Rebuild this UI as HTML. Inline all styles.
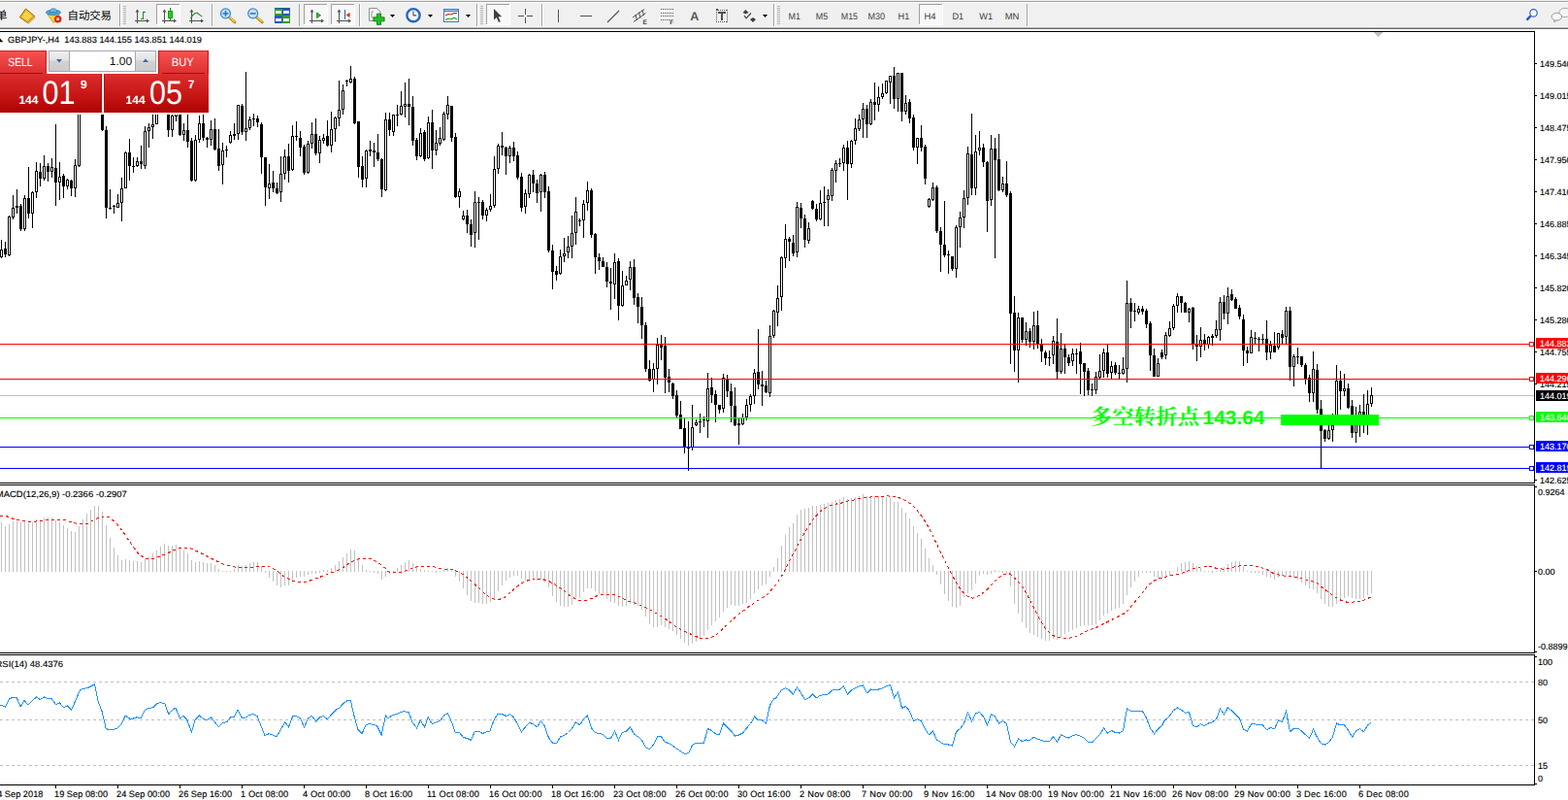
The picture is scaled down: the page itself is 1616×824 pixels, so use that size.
<!DOCTYPE html>
<html><head><meta charset="utf-8"><title>GBPJPY H4</title>
<style>
html,body{margin:0;padding:0;background:#fff;}
body{width:1616px;height:824px;overflow:hidden;position:relative;font-family:"Liberation Sans",sans-serif;}
svg{position:absolute;left:0;top:0;display:block;}
svg text{font-family:"Liberation Sans",sans-serif;}
#axis text,#time text,#labels text{stroke:#000;stroke-width:.14px;}
#axis text[fill="#fff"]{stroke:#fff;}
</style></head>
<body>
<svg width="1616" height="824" viewBox="0 0 1616 824" shape-rendering="crispEdges" text-rendering="geometricPrecision">
<rect x="0" y="0" width="1616" height="824" fill="#ffffff"/>
<g id="main">
<rect x="0" y="407" width="1581" height="1" fill="#c0c0c0" />
<path fill="#000" d="M1 247h1v19h-1zM0 257h3v8h-3zM5 249h1v16h-1zM4 256h3v6h-3zM9 222h1v42h-1zM8 223h3v40h-3zM13 201h1v25h-1zM12 214h3v10h-3zM17 195h1v25h-1zM16 212h3v2h-3zM21 210h1v28h-1zM20 212h3v24h-3zM25 201h1v37h-1zM24 204h3v32h-3zM29 172h1v53h-1zM28 204h3v16h-3zM33 197h1v38h-1zM32 198h3v22h-3zM37 167h1v37h-1zM36 176h3v22h-3zM41 168h1v24h-1zM40 177h3v7h-3zM45 160h1v26h-1zM44 171h3v13h-3zM49 168h1v19h-1zM48 171h3v6h-3zM53 163h1v20h-1zM52 172h3v5h-3zM57 128h1v84h-1zM56 173h3v15h-3zM61 167h1v39h-1zM60 182h3v6h-3zM65 179h1v25h-1zM64 181h3v11h-3zM69 184h1v11h-1zM68 185h3v7h-3zM73 185h1v17h-1zM72 186h3v8h-3zM77 164h1v39h-1zM76 170h3v24h-3zM81 81h1v91h-1zM80 83h3v88h-3zM85 71h1v20h-1zM84 75h3v8h-3zM89 71h1v20h-1zM88 75h3v8h-3zM93 71h1v20h-1zM92 75h3v8h-3zM97 71h1v20h-1zM96 75h3v8h-3zM101 71h1v20h-1zM100 75h3v8h-3zM105 75h1v60h-1zM104 77h3v57h-3zM109 130h1v95h-1zM108 134h3v80h-3zM113 195h1v21h-1zM112 214h3v1h-3zM117 211h1v9h-1zM116 212h3v1h-3zM121 200h1v14h-1zM120 209h3v5h-3zM125 183h1v45h-1zM124 194h3v15h-3zM129 156h1v38h-1zM128 157h3v37h-3zM133 143h1v43h-1zM132 157h3v14h-3zM137 162h1v16h-1zM136 171h3v1h-3zM141 162h1v10h-1zM140 166h3v5h-3zM145 150h1v24h-1zM144 166h3v3h-3zM149 130h1v44h-1zM148 135h3v36h-3zM153 127h1v25h-1zM152 131h3v4h-3zM157 112h1v31h-1zM156 128h3v3h-3zM161 100h1v28h-1zM160 102h3v26h-3zM165 71h1v20h-1zM164 75h3v8h-3zM169 71h1v20h-1zM168 75h3v8h-3zM173 91h1v50h-1zM172 92h3v42h-3zM177 116h1v25h-1zM176 119h3v15h-3zM181 100h1v25h-1zM180 102h3v18h-3zM185 100h1v40h-1zM184 102h3v37h-3zM189 127h1v18h-1zM188 134h3v5h-3zM193 118h1v34h-1zM192 134h3v12h-3zM197 142h1v45h-1zM196 145h3v41h-3zM201 139h1v48h-1zM200 144h3v42h-3zM205 119h1v28h-1zM204 127h3v17h-3zM209 118h1v27h-1zM208 127h3v15h-3zM213 141h1v11h-1zM212 142h3v2h-3zM217 124h1v26h-1zM216 133h3v11h-3zM221 122h1v33h-1zM220 133h3v21h-3zM225 133h1v43h-1zM224 153h3v18h-3zM229 147h1v43h-1zM228 155h3v15h-3zM233 150h1v12h-1zM232 154h3v1h-3zM237 135h1v13h-1zM236 139h3v8h-3zM241 127h1v17h-1zM240 138h3v2h-3zM245 108h1v36h-1zM244 108h3v30h-3zM249 107h1v32h-1zM248 109h3v27h-3zM253 74h1v71h-1zM252 132h3v4h-3zM257 120h1v14h-1zM256 123h3v9h-3zM261 117h1v13h-1zM260 122h3v1h-3zM265 119h1v12h-1zM264 122h3v4h-3zM269 126h1v53h-1zM268 128h3v34h-3zM273 162h1v50h-1zM272 162h3v31h-3zM277 169h1v36h-1zM276 189h3v5h-3zM281 176h1v22h-1zM280 188h3v6h-3zM285 188h1v12h-1zM284 194h3v5h-3zM289 161h1v47h-1zM288 179h3v19h-3zM293 154h1v31h-1zM292 161h3v18h-3zM297 148h1v40h-1zM296 161h3v15h-3zM301 129h1v47h-1zM300 140h3v35h-3zM305 125h1v20h-1zM304 140h3v1h-3zM309 135h1v26h-1zM308 142h3v10h-3zM313 149h1v31h-1zM312 151h3v27h-3zM317 145h1v34h-1zM316 148h3v30h-3zM321 126h1v27h-1zM320 138h3v10h-3zM325 122h1v38h-1zM324 138h3v20h-3zM329 140h1v28h-1zM328 144h3v14h-3zM333 138h1v10h-1zM332 142h3v3h-3zM337 124h1v27h-1zM336 140h3v10h-3zM341 115h1v42h-1zM340 133h3v17h-3zM345 120h1v26h-1zM344 121h3v12h-3zM349 83h1v47h-1zM348 113h3v9h-3zM353 87h1v31h-1zM352 93h3v20h-3zM357 82h1v7h-1zM356 83h3v1h-3zM361 68h1v18h-1zM360 81h3v4h-3zM365 79h1v49h-1zM364 81h3v46h-3zM369 125h1v58h-1zM368 125h3v47h-3zM373 161h1v32h-1zM372 171h3v14h-3zM377 154h1v39h-1zM376 155h3v29h-3zM381 145h1v16h-1zM380 154h3v2h-3zM385 147h1v25h-1zM384 155h3v2h-3zM389 138h1v28h-1zM388 157h3v7h-3zM393 163h1v40h-1zM392 164h3v31h-3zM397 116h1v81h-1zM396 123h3v73h-3zM401 116h1v24h-1zM400 123h3v11h-3zM405 118h1v22h-1zM404 118h3v18h-3zM409 108h1v22h-1zM408 118h3v1h-3zM413 94h1v25h-1zM412 109h3v9h-3zM417 85h1v36h-1zM416 107h3v3h-3zM421 81h1v48h-1zM420 107h3v3h-3zM425 99h1v51h-1zM424 110h3v35h-3zM429 142h1v23h-1zM428 144h3v17h-3zM433 132h1v30h-1zM432 137h3v24h-3zM437 134h1v32h-1zM436 136h3v28h-3zM441 120h1v44h-1zM440 126h3v37h-3zM445 113h1v61h-1zM444 126h3v29h-3zM449 134h1v26h-1zM448 147h3v8h-3zM453 131h1v19h-1zM452 142h3v6h-3zM457 115h1v30h-1zM456 117h3v27h-3zM461 99h1v24h-1zM460 108h3v10h-3zM465 109h1v37h-1zM464 109h3v33h-3zM469 137h1v67h-1zM468 141h3v62h-3zM473 194h1v20h-1zM472 197h3v6h-3zM477 217h1v10h-1zM476 222h3v4h-3zM481 216h1v24h-1zM480 222h3v9h-3zM485 226h1v28h-1zM484 231h3v11h-3zM489 197h1v58h-1zM488 208h3v32h-3zM493 203h1v44h-1zM492 208h3v1h-3zM497 206h1v20h-1zM496 208h3v14h-3zM501 214h1v14h-1zM500 216h3v6h-3zM505 200h1v18h-1zM504 212h3v4h-3zM509 161h1v53h-1zM508 174h3v38h-3zM513 148h1v31h-1zM512 150h3v24h-3zM517 136h1v24h-1zM516 150h3v2h-3zM521 151h1v29h-1zM520 152h3v9h-3zM525 150h1v18h-1zM524 152h3v9h-3zM529 146h1v20h-1zM528 152h3v9h-3zM533 156h1v29h-1zM532 160h3v23h-3zM537 178h1v40h-1zM536 182h3v32h-3zM541 195h1v25h-1zM540 199h3v14h-3zM545 179h1v25h-1zM544 180h3v20h-3zM549 175h1v23h-1zM548 180h3v9h-3zM553 185h1v24h-1zM552 189h3v10h-3zM557 179h1v39h-1zM556 180h3v18h-3zM561 177h1v27h-1zM560 180h3v18h-3zM565 192h1v68h-1zM564 197h3v61h-3zM569 252h1v46h-1zM568 258h3v22h-3zM573 274h1v15h-1zM572 279h3v4h-3zM577 257h1v26h-1zM576 264h3v18h-3zM581 245h1v25h-1zM580 261h3v3h-3zM585 243h1v23h-1zM584 254h3v6h-3zM589 222h1v44h-1zM588 240h3v14h-3zM593 203h1v49h-1zM592 218h3v22h-3zM597 225h1v8h-1zM596 227h3v1h-3zM601 206h1v39h-1zM600 210h3v17h-3zM605 187h1v30h-1zM604 196h3v13h-3zM609 194h1v51h-1zM608 196h3v46h-3zM613 240h1v42h-1zM612 241h3v24h-3zM617 261h1v17h-1zM616 265h3v4h-3zM621 265h1v10h-1zM620 269h3v6h-3zM625 270h1v26h-1zM624 275h3v15h-3zM629 276h1v43h-1zM628 290h3v2h-3zM633 261h1v47h-1zM632 270h3v23h-3zM637 266h1v64h-1zM636 269h3v46h-3zM641 279h1v37h-1zM640 294h3v21h-3zM645 284h1v10h-1zM644 289h3v5h-3zM649 269h1v30h-1zM648 275h3v13h-3zM653 267h1v47h-1zM652 275h3v32h-3zM657 302h1v31h-1zM656 306h3v10h-3zM661 306h1v43h-1zM660 316h3v19h-3zM665 332h1v51h-1zM664 335h3v45h-3zM669 371h1v22h-1zM668 380h3v12h-3zM673 374h1v30h-1zM672 380h3v11h-3zM677 348h1v48h-1zM676 355h3v25h-3zM681 345h1v26h-1zM680 355h3v3h-3zM685 347h1v58h-1zM684 356h3v33h-3zM689 380h1v24h-1zM688 388h3v6h-3zM693 394h1v17h-1zM692 395h3v13h-3zM697 402h1v28h-1zM696 407h3v21h-3zM701 413h1v29h-1zM700 427h3v15h-3zM705 431h1v36h-1zM704 441h3v20h-3zM709 434h1v51h-1zM708 461h3v1h-3zM713 417h1v47h-1zM712 440h3v21h-3zM717 432h1v7h-1zM716 435h3v3h-3zM721 426h1v20h-1zM720 434h3v1h-3zM725 429h1v11h-1zM724 432h3v1h-3zM729 384h1v67h-1zM728 400h3v34h-3zM733 389h1v26h-1zM732 399h3v8h-3zM737 402h1v33h-1zM736 406h3v11h-3zM741 417h1v9h-1zM740 417h3v5h-3zM745 385h1v40h-1zM744 389h3v32h-3zM749 386h1v23h-1zM748 390h3v13h-3zM753 395h1v40h-1zM752 403h3v15h-3zM757 399h1v40h-1zM756 418h3v20h-3zM761 431h1v27h-1zM760 436h3v2h-3zM765 426h1v12h-1zM764 430h3v7h-3zM769 411h1v22h-1zM768 417h3v13h-3zM773 406h1v18h-1zM772 408h3v9h-3zM777 380h1v36h-1zM776 384h3v24h-3zM781 339h1v62h-1zM780 383h3v13h-3zM785 382h1v36h-1zM784 396h3v2h-3zM789 392h1v13h-1zM788 397h3v7h-3zM793 335h1v74h-1zM792 346h3v59h-3zM797 319h1v29h-1zM796 320h3v26h-3zM801 294h1v42h-1zM800 307h3v15h-3zM805 264h1v56h-1zM804 265h3v41h-3zM809 231h1v45h-1zM808 246h3v20h-3zM813 244h1v25h-1zM812 246h3v3h-3zM817 242h1v22h-1zM816 250h3v11h-3zM821 208h1v57h-1zM820 213h3v47h-3zM825 209h1v26h-1zM824 214h3v11h-3zM829 221h1v34h-1zM828 225h3v22h-3zM833 229h1v22h-1zM832 235h3v13h-3zM837 206h1v10h-1zM836 207h3v8h-3zM841 210h1v18h-1zM840 215h3v11h-3zM845 196h1v31h-1zM844 209h3v17h-3zM849 192h1v41h-1zM848 208h3v1h-3zM853 195h1v38h-1zM852 201h3v5h-3zM857 173h1v34h-1zM856 175h3v27h-3zM861 165h1v23h-1zM860 168h3v8h-3zM865 163h1v9h-1zM864 168h3v1h-3zM869 149h1v27h-1zM868 152h3v16h-3zM873 145h1v61h-1zM872 152h3v17h-3zM877 144h1v29h-1zM876 145h3v24h-3zM881 122h1v27h-1zM880 132h3v13h-3zM885 118h1v17h-1zM884 123h3v10h-3zM889 106h1v36h-1zM888 112h3v11h-3zM893 108h1v34h-1zM892 112h3v16h-3zM897 102h1v27h-1zM896 105h3v23h-3zM901 85h1v39h-1zM900 105h3v3h-3zM905 89h1v26h-1zM904 100h3v8h-3zM909 86h1v16h-1zM908 96h3v4h-3zM913 83h1v14h-1zM912 83h3v13h-3zM917 78h1v29h-1zM916 78h3v7h-3zM921 69h1v43h-1zM920 78h3v24h-3zM925 75h1v40h-1zM924 75h3v27h-3zM929 75h1v50h-1zM928 75h3v40h-3zM933 98h1v20h-1zM932 106h3v9h-3zM937 102h1v25h-1zM936 105h3v17h-3zM941 118h1v37h-1zM940 121h3v31h-3zM945 142h1v27h-1zM944 142h3v10h-3zM949 129h1v27h-1zM948 142h3v10h-3zM953 149h1v41h-1zM952 151h3v33h-3zM957 204h1v10h-1zM956 205h3v8h-3zM961 188h1v19h-1zM960 193h3v13h-3zM965 191h1v49h-1zM964 193h3v45h-3zM969 234h1v46h-1zM968 238h3v14h-3zM973 207h1v58h-1zM972 252h3v11h-3zM977 258h1v24h-1zM976 262h3v1h-3zM981 264h1v15h-1zM980 264h3v13h-3zM985 232h1v54h-1zM984 234h3v43h-3zM989 218h1v37h-1zM988 224h3v10h-3zM993 196h1v39h-1zM992 204h3v20h-3zM997 151h1v60h-1zM996 158h3v46h-3zM1001 117h1v84h-1zM1000 159h3v35h-3zM1005 139h1v62h-1zM1004 156h3v38h-3zM1009 135h1v25h-1zM1008 152h3v3h-3zM1013 148h1v24h-1zM1012 152h3v15h-3zM1017 166h1v73h-1zM1016 167h3v40h-3zM1021 139h1v73h-1zM1020 153h3v53h-3zM1025 142h1v124h-1zM1024 153h3v12h-3zM1029 138h1v59h-1zM1028 164h3v32h-3zM1033 182h1v16h-1zM1032 189h3v7h-3zM1037 166h1v37h-1zM1036 189h3v12h-3zM1041 197h1v178h-1zM1040 199h3v124h-3zM1045 305h1v78h-1zM1044 322h3v39h-3zM1049 322h1v72h-1zM1048 327h3v34h-3zM1053 327h1v26h-1zM1052 327h3v23h-3zM1057 332h1v24h-1zM1056 341h3v9h-3zM1061 338h1v20h-1zM1060 341h3v11h-3zM1065 321h1v39h-1zM1064 335h3v17h-3zM1069 320h1v39h-1zM1068 335h3v20h-3zM1073 349h1v24h-1zM1072 355h3v7h-3zM1077 361h1v15h-1zM1076 363h3v6h-3zM1081 361h1v16h-1zM1080 368h3v1h-3zM1085 346h1v29h-1zM1084 351h3v15h-3zM1089 328h1v63h-1zM1088 352h3v31h-3zM1093 343h1v42h-1zM1092 359h3v24h-3zM1097 355h1v30h-1zM1096 359h3v9h-3zM1101 365h1v12h-1zM1100 368h3v6h-3zM1105 359h1v18h-1zM1104 364h3v8h-3zM1109 359h1v26h-1zM1108 364h3v1h-3zM1113 353h1v53h-1zM1112 362h3v13h-3zM1117 374h1v34h-1zM1116 374h3v9h-3zM1121 379h1v28h-1zM1120 382h3v20h-3zM1125 395h1v13h-1zM1124 401h3v1h-3zM1129 383h1v23h-1zM1128 388h3v14h-3zM1133 365h1v25h-1zM1132 382h3v7h-3zM1137 359h1v30h-1zM1136 363h3v19h-3zM1141 355h1v34h-1zM1140 363h3v22h-3zM1145 372h1v18h-1zM1144 377h3v7h-3zM1149 373h1v13h-1zM1148 376h3v8h-3zM1153 376h1v14h-1zM1152 384h3v1h-3zM1157 368h1v18h-1zM1156 380h3v5h-3zM1161 289h1v105h-1zM1160 312h3v68h-3zM1165 307h1v31h-1zM1164 312h3v9h-3zM1169 312h1v19h-1zM1168 320h3v1h-3zM1173 315h1v9h-1zM1172 318h3v4h-3zM1177 315h1v9h-1zM1176 318h3v3h-3zM1181 318h1v20h-1zM1180 320h3v14h-3zM1185 331h1v51h-1zM1184 333h3v33h-3zM1189 359h1v29h-1zM1188 366h3v22h-3zM1193 369h1v19h-1zM1192 374h3v14h-3zM1197 360h1v10h-1zM1196 363h3v5h-3zM1201 342h1v28h-1zM1200 345h3v21h-3zM1205 331h1v16h-1zM1204 338h3v8h-3zM1209 313h1v27h-1zM1208 315h3v23h-3zM1213 302h1v20h-1zM1212 305h3v10h-3zM1217 305h1v17h-1zM1216 305h3v7h-3zM1221 311h1v11h-1zM1220 312h3v10h-3zM1225 317h1v15h-1zM1224 318h3v4h-3zM1229 316h1v44h-1zM1228 317h3v37h-3zM1233 345h1v27h-1zM1232 354h3v3h-3zM1237 337h1v31h-1zM1236 350h3v7h-3zM1241 344h1v17h-1zM1240 350h3v5h-3zM1245 346h1v13h-1zM1244 347h3v8h-3zM1249 344h1v12h-1zM1248 346h3v2h-3zM1253 330h1v18h-1zM1252 339h3v7h-3zM1257 306h1v45h-1zM1256 311h3v29h-3zM1261 304h1v25h-1zM1260 311h3v12h-3zM1265 296h1v38h-1zM1264 305h3v18h-3zM1269 298h1v12h-1zM1268 303h3v6h-3zM1273 306h1v12h-1zM1272 308h3v10h-3zM1277 314h1v15h-1zM1276 317h3v9h-3zM1281 324h1v53h-1zM1280 329h3v32h-3zM1285 357h1v17h-1zM1284 361h3v3h-3zM1289 340h1v24h-1zM1288 347h3v17h-3zM1293 342h1v12h-1zM1292 348h3v1h-3zM1297 347h1v15h-1zM1296 349h3v1h-3zM1301 344h1v11h-1zM1300 349h3v1h-3zM1305 330h1v41h-1zM1304 349h3v14h-3zM1309 351h1v19h-1zM1308 355h3v8h-3zM1313 342h1v21h-1zM1312 356h3v7h-3zM1317 343h1v17h-1zM1316 343h3v15h-3zM1321 340h1v14h-1zM1320 344h3v4h-3zM1325 316h1v38h-1zM1324 320h3v27h-3zM1329 316h1v76h-1zM1328 320h3v58h-3zM1333 365h1v33h-1zM1332 367h3v11h-3zM1337 358h1v17h-1zM1336 367h3v1h-3zM1341 367h1v11h-1zM1340 367h3v9h-3zM1345 374h1v22h-1zM1344 376h3v14h-3zM1349 386h1v28h-1zM1348 389h3v16h-3zM1353 362h1v52h-1zM1352 380h3v25h-3zM1357 375h1v51h-1zM1356 381h3v41h-3zM1361 412h1v70h-1zM1360 421h3v23h-3zM1365 442h1v13h-1zM1364 443h3v9h-3zM1369 438h1v15h-1zM1368 443h3v9h-3zM1373 426h1v29h-1zM1372 438h3v5h-3zM1377 376h1v62h-1zM1376 392h3v46h-3zM1381 382h1v40h-1zM1380 392h3v11h-3zM1385 385h1v23h-1zM1384 400h3v3h-3zM1389 395h1v26h-1zM1388 400h3v20h-3zM1393 412h1v39h-1zM1392 418h3v28h-3zM1397 419h1v37h-1zM1396 436h3v10h-3zM1401 417h1v33h-1zM1400 424h3v12h-3zM1405 406h1v40h-1zM1404 424h3v10h-3zM1409 402h1v46h-1zM1408 416h3v18h-3zM1413 399h1v20h-1zM1412 407h3v9h-3z"/>
<path fill="#fff" d="M1 258h1v6h-1zM9 224h1v38h-1zM13 215h1v8h-1zM25 205h1v30h-1zM33 199h1v20h-1zM37 177h1v20h-1zM45 172h1v11h-1zM53 173h1v3h-1zM61 183h1v4h-1zM69 186h1v5h-1zM77 171h1v22h-1zM81 84h1v86h-1zM85 76h1v6h-1zM93 76h1v6h-1zM101 76h1v6h-1zM121 210h1v3h-1zM125 195h1v13h-1zM129 158h1v35h-1zM141 167h1v3h-1zM149 136h1v34h-1zM153 132h1v2h-1zM157 129h1v1h-1zM161 103h1v24h-1zM165 76h1v6h-1zM177 120h1v13h-1zM181 103h1v16h-1zM189 135h1v3h-1zM201 145h1v40h-1zM205 128h1v15h-1zM217 134h1v9h-1zM229 156h1v13h-1zM237 140h1v6h-1zM245 109h1v28h-1zM253 133h1v2h-1zM257 124h1v7h-1zM277 190h1v3h-1zM289 180h1v17h-1zM293 162h1v16h-1zM301 141h1v33h-1zM317 149h1v28h-1zM321 139h1v8h-1zM329 145h1v12h-1zM333 143h1v1h-1zM341 134h1v15h-1zM345 122h1v10h-1zM349 114h1v7h-1zM353 94h1v18h-1zM361 82h1v2h-1zM377 156h1v27h-1zM397 124h1v71h-1zM405 119h1v16h-1zM413 110h1v7h-1zM417 108h1v1h-1zM433 138h1v22h-1zM441 127h1v35h-1zM449 148h1v6h-1zM453 143h1v4h-1zM457 118h1v25h-1zM461 109h1v8h-1zM473 198h1v4h-1zM477 223h1v2h-1zM489 209h1v30h-1zM501 217h1v4h-1zM505 213h1v2h-1zM509 175h1v36h-1zM513 151h1v22h-1zM525 153h1v7h-1zM541 200h1v12h-1zM545 181h1v18h-1zM557 181h1v16h-1zM577 265h1v16h-1zM581 262h1v1h-1zM585 255h1v4h-1zM589 241h1v12h-1zM593 219h1v20h-1zM601 211h1v15h-1zM605 197h1v11h-1zM633 271h1v21h-1zM641 295h1v19h-1zM645 290h1v3h-1zM649 276h1v11h-1zM673 381h1v9h-1zM677 356h1v23h-1zM713 441h1v19h-1zM717 436h1v1h-1zM729 401h1v32h-1zM745 390h1v30h-1zM765 431h1v5h-1zM769 418h1v11h-1zM773 409h1v7h-1zM777 385h1v22h-1zM793 347h1v57h-1zM797 321h1v24h-1zM801 308h1v13h-1zM805 266h1v39h-1zM809 247h1v18h-1zM821 214h1v45h-1zM833 236h1v11h-1zM845 210h1v15h-1zM853 202h1v3h-1zM857 176h1v25h-1zM861 169h1v6h-1zM869 153h1v14h-1zM877 146h1v22h-1zM881 133h1v11h-1zM885 124h1v8h-1zM889 113h1v9h-1zM897 106h1v21h-1zM905 101h1v6h-1zM909 97h1v2h-1zM913 84h1v11h-1zM917 79h1v5h-1zM925 76h1v25h-1zM933 107h1v7h-1zM945 143h1v8h-1zM957 206h1v6h-1zM961 194h1v11h-1zM985 235h1v41h-1zM989 225h1v8h-1zM993 205h1v18h-1zM997 159h1v44h-1zM1005 157h1v36h-1zM1009 153h1v1h-1zM1021 154h1v51h-1zM1033 190h1v5h-1zM1049 328h1v32h-1zM1057 342h1v7h-1zM1065 336h1v15h-1zM1085 352h1v13h-1zM1093 360h1v22h-1zM1105 365h1v6h-1zM1129 389h1v12h-1zM1133 383h1v5h-1zM1137 364h1v17h-1zM1145 378h1v5h-1zM1157 381h1v3h-1zM1161 313h1v66h-1zM1173 319h1v2h-1zM1193 375h1v12h-1zM1201 346h1v19h-1zM1205 339h1v6h-1zM1209 316h1v21h-1zM1213 306h1v8h-1zM1225 319h1v2h-1zM1237 351h1v5h-1zM1245 348h1v6h-1zM1253 340h1v5h-1zM1257 312h1v27h-1zM1265 306h1v16h-1zM1289 348h1v15h-1zM1309 356h1v6h-1zM1317 344h1v13h-1zM1325 321h1v25h-1zM1333 368h1v9h-1zM1353 381h1v23h-1zM1369 444h1v7h-1zM1373 439h1v3h-1zM1377 393h1v44h-1zM1385 401h1v1h-1zM1397 437h1v8h-1zM1401 425h1v10h-1zM1409 417h1v16h-1zM1413 408h1v7h-1z"/>
<rect x="0" y="354" width="1581" height="1" fill="#ff0000" />
<rect x="1576" y="352" width="5" height="5" fill="#ff0000" />
<rect x="1577" y="353" width="3" height="3" fill="#fff" />
<rect x="0" y="390" width="1581" height="1" fill="#ff0000" />
<rect x="1576" y="388" width="5" height="5" fill="#ff0000" />
<rect x="1577" y="389" width="3" height="3" fill="#fff" />
<rect x="0" y="430" width="1581" height="1" fill="#00ff00" />
<rect x="1576" y="428" width="5" height="5" fill="#00ff00" />
<rect x="1577" y="429" width="3" height="3" fill="#fff" />
<rect x="0" y="460" width="1581" height="1" fill="#0000ff" />
<rect x="1576" y="458" width="5" height="5" fill="#0000ff" />
<rect x="1577" y="459" width="3" height="3" fill="#fff" />
<rect x="0" y="482" width="1581" height="1" fill="#0000ff" />
<rect x="1576" y="480" width="5" height="5" fill="#0000ff" />
<rect x="1577" y="481" width="3" height="3" fill="#fff" />
<rect x="1320" y="427" width="101" height="11" fill="#00ff00" />
<text x="1124" y="437" font-size="22" font-weight="bold" fill="#00ff00" textLength="112" lengthAdjust="spacing" style="font-family:'Liberation Serif','Noto Serif CJK SC',serif;" shape-rendering="auto">多空转折点</text>
<text x="1239.5" y="436.6" font-size="20" font-weight="bold" fill="#00ff00" textLength="64" lengthAdjust="spacingAndGlyphs">143.64</text>
<path d="M1416 33h9v1h-1v1h-1v1h-1v1h-1v1h-1v-1h-1v-1h-1v-1h-1v-1h-1z" fill="#c0c0c0"/>
</g>
<g id="macd">
<path fill="#c0c0c0" d="M1 538h1v51h-1zM5 542h1v47h-1zM9 540h1v49h-1zM13 537h1v52h-1zM17 537h1v52h-1zM21 538h1v51h-1zM25 537h1v52h-1zM29 539h1v50h-1zM33 538h1v51h-1zM37 535h1v54h-1zM41 535h1v54h-1zM45 533h1v56h-1zM49 533h1v56h-1zM53 533h1v56h-1zM57 536h1v53h-1zM61 538h1v51h-1zM65 541h1v48h-1zM69 544h1v45h-1zM73 547h1v42h-1zM77 548h1v41h-1zM81 542h1v47h-1zM85 535h1v54h-1zM89 529h1v60h-1zM93 525h1v64h-1zM97 521h1v68h-1zM101 521h1v68h-1zM105 527h1v62h-1zM109 541h1v48h-1zM113 554h1v35h-1zM117 564h1v25h-1zM121 572h1v17h-1zM125 577h1v12h-1zM129 576h1v13h-1zM133 577h1v12h-1zM137 578h1v11h-1zM141 578h1v11h-1zM145 579h1v10h-1zM149 576h1v13h-1zM153 574h1v15h-1zM157 570h1v19h-1zM161 567h1v22h-1zM165 563h1v26h-1zM169 560h1v29h-1zM173 562h1v27h-1zM177 562h1v27h-1zM181 561h1v28h-1zM185 563h1v26h-1zM189 567h1v22h-1zM193 570h1v19h-1zM197 577h1v12h-1zM201 579h1v10h-1zM205 578h1v11h-1zM209 579h1v10h-1zM213 580h1v9h-1zM217 580h1v9h-1zM221 582h1v7h-1zM225 586h1v3h-1zM229 588h1v1h-1zM233 588h1v1h-1zM237 588h1v1h-1zM241 586h1v3h-1zM245 582h1v7h-1zM249 583h1v6h-1zM253 582h1v7h-1zM257 580h1v9h-1zM261 579h1v10h-1zM265 579h1v10h-1zM269 583h1v6h-1zM273 588h1v2h-1zM277 588h1v7h-1zM281 588h1v11h-1zM285 588h1v15h-1zM289 588h1v17h-1zM293 588h1v15h-1zM297 588h1v15h-1zM301 588h1v11h-1zM305 588h1v7h-1zM309 588h1v6h-1zM313 588h1v6h-1zM317 588h1v4h-1zM321 588h1v3h-1zM325 588h1v3h-1zM329 588h1v2h-1zM333 587h1v2h-1zM337 587h1v2h-1zM341 585h1v4h-1zM345 582h1v7h-1zM349 578h1v11h-1zM353 574h1v15h-1zM357 570h1v19h-1zM361 566h1v23h-1zM365 567h1v22h-1zM369 575h1v14h-1zM373 582h1v7h-1zM377 587h1v2h-1zM381 588h1v1h-1zM385 588h1v2h-1zM389 588h1v3h-1zM393 588h1v9h-1zM397 588h1v6h-1zM401 588h1v3h-1zM405 588h1v1h-1zM409 585h1v4h-1zM413 582h1v7h-1zM417 579h1v10h-1zM421 577h1v12h-1zM425 580h1v9h-1zM429 584h1v5h-1zM433 586h1v3h-1zM437 587h1v2h-1zM441 588h1v1h-1zM445 588h1v1h-1zM449 588h1v2h-1zM453 588h1v1h-1zM457 587h1v2h-1zM461 585h1v4h-1zM465 588h1v1h-1zM469 588h1v6h-1zM473 588h1v11h-1zM477 588h1v18h-1zM481 588h1v25h-1zM485 588h1v31h-1zM489 588h1v33h-1zM493 588h1v33h-1zM497 588h1v34h-1zM501 588h1v34h-1zM505 588h1v32h-1zM509 588h1v29h-1zM513 588h1v21h-1zM517 588h1v15h-1zM521 588h1v10h-1zM525 588h1v7h-1zM529 588h1v5h-1zM533 588h1v5h-1zM537 588h1v8h-1zM541 588h1v10h-1zM545 588h1v11h-1zM549 588h1v10h-1zM553 588h1v10h-1zM557 588h1v9h-1zM561 588h1v12h-1zM565 588h1v17h-1zM569 588h1v26h-1zM573 588h1v32h-1zM577 588h1v36h-1zM581 588h1v37h-1zM585 588h1v37h-1zM589 588h1v35h-1zM593 588h1v30h-1zM597 588h1v28h-1zM601 588h1v22h-1zM605 588h1v18h-1zM609 588h1v18h-1zM613 588h1v21h-1zM617 588h1v24h-1zM621 588h1v25h-1zM625 588h1v29h-1zM629 588h1v32h-1zM633 588h1v33h-1zM637 588h1v36h-1zM641 588h1v37h-1zM645 588h1v36h-1zM649 588h1v34h-1zM653 588h1v35h-1zM657 588h1v36h-1zM661 588h1v40h-1zM665 588h1v47h-1zM669 588h1v55h-1zM673 588h1v58h-1zM677 588h1v58h-1zM681 588h1v56h-1zM685 588h1v58h-1zM689 588h1v60h-1zM693 588h1v62h-1zM697 588h1v66h-1zM701 588h1v70h-1zM705 588h1v74h-1zM709 588h1v77h-1zM713 588h1v75h-1zM717 588h1v73h-1zM721 588h1v70h-1zM725 588h1v67h-1zM729 588h1v61h-1zM733 588h1v56h-1zM737 588h1v52h-1zM741 588h1v48h-1zM745 588h1v42h-1zM749 588h1v38h-1zM753 588h1v35h-1zM757 588h1v36h-1zM761 588h1v36h-1zM765 588h1v34h-1zM769 588h1v33h-1zM773 588h1v29h-1zM777 588h1v23h-1zM781 588h1v19h-1zM785 588h1v15h-1zM789 588h1v14h-1zM793 588h1v6h-1zM797 584h1v5h-1zM801 575h1v14h-1zM805 562h1v27h-1zM809 551h1v38h-1zM813 543h1v46h-1zM817 539h1v50h-1zM821 530h1v59h-1zM825 525h1v64h-1zM829 524h1v65h-1zM833 523h1v66h-1zM837 521h1v68h-1zM841 521h1v68h-1zM845 520h1v69h-1zM849 519h1v70h-1zM853 518h1v71h-1zM857 517h1v72h-1zM861 515h1v74h-1zM865 514h1v75h-1zM869 512h1v77h-1zM873 514h1v75h-1zM877 513h1v76h-1zM881 512h1v77h-1zM885 511h1v78h-1zM889 509h1v80h-1zM893 511h1v78h-1zM897 511h1v78h-1zM901 511h1v78h-1zM905 511h1v78h-1zM909 511h1v78h-1zM913 512h1v77h-1zM917 513h1v76h-1zM921 517h1v72h-1zM925 517h1v72h-1zM929 523h1v66h-1zM933 528h1v61h-1zM937 534h1v55h-1zM941 542h1v47h-1zM945 549h1v40h-1zM949 555h1v34h-1zM953 565h1v24h-1zM957 575h1v14h-1zM961 582h1v7h-1zM965 588h1v4h-1zM969 588h1v14h-1zM973 588h1v24h-1zM977 588h1v31h-1zM981 588h1v37h-1zM985 588h1v38h-1zM989 588h1v36h-1zM993 588h1v27h-1zM997 588h1v23h-1zM1001 588h1v20h-1zM1005 588h1v13h-1zM1009 588h1v5h-1zM1013 588h1v3h-1zM1017 588h1v4h-1zM1021 588h1v3h-1zM1025 587h1v2h-1zM1029 588h1v1h-1zM1033 588h1v2h-1zM1037 588h1v3h-1zM1041 588h1v16h-1zM1045 588h1v34h-1zM1049 588h1v44h-1zM1053 588h1v53h-1zM1057 588h1v59h-1zM1061 588h1v64h-1zM1065 588h1v66h-1zM1069 588h1v68h-1zM1073 588h1v70h-1zM1077 588h1v72h-1zM1081 588h1v72h-1zM1085 588h1v70h-1zM1089 588h1v71h-1zM1093 588h1v68h-1zM1097 588h1v65h-1zM1101 588h1v63h-1zM1105 588h1v61h-1zM1109 588h1v59h-1zM1113 588h1v57h-1zM1117 588h1v56h-1zM1121 588h1v56h-1zM1125 588h1v56h-1zM1129 588h1v55h-1zM1133 588h1v51h-1zM1137 588h1v46h-1zM1141 588h1v44h-1zM1145 588h1v41h-1zM1149 588h1v39h-1zM1153 588h1v38h-1zM1157 588h1v34h-1zM1161 588h1v25h-1zM1165 588h1v17h-1zM1169 588h1v11h-1zM1173 588h1v6h-1zM1177 588h1v2h-1zM1181 588h1v2h-1zM1185 588h1v2h-1zM1189 588h1v6h-1zM1193 588h1v7h-1zM1197 588h1v9h-1zM1201 588h1v8h-1zM1205 588h1v5h-1zM1209 588h1v1h-1zM1213 584h1v5h-1zM1217 580h1v9h-1zM1221 579h1v10h-1zM1225 578h1v11h-1zM1229 580h1v9h-1zM1233 583h1v6h-1zM1237 585h1v4h-1zM1241 588h1v1h-1zM1245 588h1v1h-1zM1249 588h1v2h-1zM1253 588h1v1h-1zM1257 587h1v2h-1zM1261 584h1v5h-1zM1265 581h1v8h-1zM1269 579h1v10h-1zM1273 578h1v11h-1zM1277 578h1v11h-1zM1281 583h1v6h-1zM1285 588h1v1h-1zM1289 588h1v2h-1zM1293 588h1v2h-1zM1297 588h1v2h-1zM1301 588h1v4h-1zM1305 588h1v6h-1zM1309 588h1v7h-1zM1313 588h1v9h-1zM1317 588h1v7h-1zM1321 588h1v5h-1zM1325 588h1v5h-1zM1329 588h1v6h-1zM1333 588h1v7h-1zM1337 588h1v9h-1zM1341 588h1v12h-1zM1345 588h1v15h-1zM1349 588h1v18h-1zM1353 588h1v19h-1zM1357 588h1v23h-1zM1361 588h1v29h-1zM1365 588h1v34h-1zM1369 588h1v37h-1zM1373 588h1v37h-1zM1377 588h1v34h-1zM1381 588h1v30h-1zM1385 588h1v28h-1zM1389 588h1v26h-1zM1393 588h1v28h-1zM1397 588h1v29h-1zM1401 588h1v29h-1zM1405 588h1v28h-1zM1409 588h1v25h-1zM1413 588h1v23h-1z"/>
<polyline points="0.0,531.8 7.5,532.0 15.0,535.0 22.5,536.2 30.0,538.0 37.5,537.0 45.0,535.8 52.5,535.5 60.0,535.0 67.5,535.8 75.0,538.2 82.5,540.0 90.0,539.5 97.5,535.0 105.0,532.0 112.5,532.5 120.0,538.8 127.5,548.8 135.0,560.0 142.5,570.0 150.0,575.5 157.5,575.8 165.0,573.0 172.5,570.0 180.0,566.2 187.5,564.0 195.0,564.0 202.5,567.5 210.0,571.2 217.5,575.0 225.0,578.8 232.5,582.0 240.0,583.8 247.5,584.5 255.0,584.5 262.5,584.0 270.0,583.0 277.5,583.8 285.0,587.5 292.5,593.8 300.0,597.5 307.5,600.0 315.0,599.5 322.5,597.0 330.0,594.2 337.5,591.2 345.0,588.8 352.5,585.5 360.0,580.0 367.5,576.2 375.0,575.2 382.5,575.8 390.0,579.5 397.5,585.5 400.0,588.8 407.5,590.0 415.0,589.2 422.5,586.2 430.0,583.8 437.5,583.0 445.0,583.0 452.5,585.5 460.0,586.8 467.5,587.0 475.0,590.0 482.5,595.8 490.0,602.5 497.5,609.5 505.0,615.8 512.5,618.0 520.0,615.5 527.5,608.8 535.0,602.5 542.5,598.2 550.0,596.8 557.5,596.2 565.0,598.2 572.5,602.5 580.0,607.5 587.5,613.8 595.0,618.0 602.5,618.8 610.0,616.2 617.5,612.5 625.0,612.0 632.5,612.5 640.0,615.0 647.5,619.5 655.0,621.2 662.5,624.5 670.0,628.0 677.5,632.5 685.0,637.0 692.5,642.5 700.0,647.5 707.5,651.2 715.0,654.5 722.5,657.8 730.0,657.8 737.5,654.5 745.0,647.5 752.5,640.5 760.0,633.8 767.5,628.0 775.0,622.5 782.5,617.5 790.0,613.0 797.5,605.0 800.0,602.0 807.5,590.0 815.0,575.0 822.5,561.2 830.0,547.5 837.5,535.5 845.0,527.0 852.5,521.8 860.0,519.5 867.5,518.0 875.0,515.8 882.5,514.5 890.0,512.5 897.5,512.0 905.0,511.8 912.5,510.8 920.0,511.2 927.5,513.0 935.0,516.2 942.5,522.5 950.0,531.8 957.5,543.8 965.0,559.5 972.5,575.0 980.0,590.0 987.5,603.8 995.0,613.0 1002.5,616.2 1010.0,613.2 1017.5,607.0 1025.0,598.8 1032.5,592.5 1040.0,590.5 1047.5,597.0 1055.0,606.2 1062.5,620.0 1070.0,635.0 1077.5,647.5 1085.0,654.5 1092.5,657.0 1100.0,657.5 1107.5,656.2 1115.0,652.5 1122.5,648.8 1130.0,646.2 1137.5,642.5 1145.0,638.8 1152.5,635.0 1160.0,631.2 1167.5,622.5 1175.0,613.8 1182.5,603.8 1190.0,597.5 1197.5,595.0 1200.0,594.5 1207.5,592.5 1215.0,591.2 1222.5,588.8 1230.0,585.5 1237.5,583.8 1245.0,583.0 1252.5,585.0 1260.0,586.2 1267.5,585.0 1275.0,583.2 1282.5,582.5 1290.0,582.5 1297.5,583.8 1305.0,586.2 1312.5,590.5 1320.0,592.5 1327.5,593.8 1335.0,594.2 1342.5,596.2 1350.0,598.0 1357.5,600.5 1365.0,607.0 1372.5,612.5 1380.0,617.5 1387.5,620.0 1395.0,620.0 1402.5,619.5 1410.0,616.2 1413.5,615.0" fill="none" stroke="#ff0000" stroke-width="1" stroke-dasharray="3 3" shape-rendering="crispEdges"/>
</g>
<g id="rsi">
<line x1="0" x2="1581" y1="702.5" y2="702.5" stroke="#c0c0c0" stroke-width="1" stroke-dasharray="3 3"/>
<line x1="0" x2="1581" y1="741.5" y2="741.5" stroke="#c0c0c0" stroke-width="1" stroke-dasharray="3 3"/>
<line x1="0" x2="1581" y1="788.5" y2="788.5" stroke="#c0c0c0" stroke-width="1" stroke-dasharray="3 3"/>
<polyline points="0.0,726.2 3.0,727.0 5.5,728.0 10.0,719.5 13.8,718.2 17.0,718.0 21.2,728.0 25.0,721.2 28.8,726.0 37.5,718.0 41.2,720.5 45.5,718.0 49.5,719.5 53.5,720.0 57.5,725.8 61.5,723.8 65.5,728.8 69.5,727.0 73.5,731.0 77.5,722.5 82.5,710.5 86.2,709.5 91.2,708.2 97.5,705.0 101.2,722.5 105.0,732.5 109.2,750.5 113.0,752.0 117.0,751.2 121.2,750.0 125.0,746.2 129.2,737.0 133.5,740.0 137.5,740.0 141.2,738.8 145.0,740.0 149.5,731.2 153.5,729.5 157.5,728.8 162.5,724.2 166.2,723.8 170.0,725.0 173.8,735.8 177.5,731.2 181.0,729.0 185.5,740.0 188.8,737.5 192.5,741.2 197.5,753.8 201.2,741.2 205.5,737.0 209.5,740.5 213.0,741.8 217.5,739.0 221.5,743.8 225.5,748.8 230.0,744.2 233.8,743.8 237.5,739.0 241.2,738.8 245.0,731.0 249.5,739.5 253.0,739.2 257.5,736.2 261.2,735.8 265.0,737.5 268.8,747.5 273.0,757.5 277.0,755.8 281.2,757.0 285.0,759.0 289.5,751.2 293.8,743.8 297.5,748.8 302.0,737.0 305.5,737.5 309.5,740.0 313.5,748.8 317.5,740.0 321.2,737.0 325.5,743.0 329.5,738.8 333.0,737.5 337.5,740.8 342.0,735.5 346.2,731.2 350.0,729.0 354.5,723.8 358.0,721.8 361.5,722.0 365.0,737.5 368.8,751.2 373.0,755.5 377.5,746.2 381.2,745.8 385.0,746.2 388.8,748.0 393.2,756.8 397.5,737.0 400.0,740.0 405.0,736.2 408.8,735.8 412.5,733.8 416.2,732.5 421.2,733.8 425.0,743.8 429.5,750.0 433.2,741.8 437.5,748.8 441.2,738.8 445.5,745.8 449.5,743.8 453.5,742.5 457.5,737.0 461.5,734.5 465.5,743.8 469.5,755.0 473.5,754.5 477.5,759.5 481.5,760.5 485.5,762.5 489.5,753.0 493.0,753.0 497.5,755.5 501.2,753.8 505.0,753.0 509.2,741.2 513.2,735.0 517.5,735.5 521.5,737.5 525.5,735.8 529.5,738.8 533.5,746.2 537.5,753.8 541.5,748.8 545.5,744.2 549.5,745.8 553.5,748.8 557.5,742.5 561.5,748.2 565.5,760.0 569.5,765.0 573.5,765.8 577.5,758.8 581.5,757.5 585.5,754.5 589.5,750.5 593.5,743.8 597.5,746.8 601.5,740.5 605.5,737.0 609.5,750.0 613.5,754.5 617.5,755.8 621.5,756.2 625.5,760.5 629.5,760.5 633.5,753.0 637.5,762.5 641.2,754.5 645.5,753.0 649.5,748.8 653.5,756.2 657.5,758.8 661.5,762.5 665.5,769.5 669.5,771.8 673.5,767.0 677.5,758.8 681.5,758.8 685.5,764.5 689.5,765.5 693.5,768.2 697.5,771.2 701.5,773.8 706.2,777.0 710.0,775.0 713.5,767.5 717.5,765.0 721.5,765.0 725.5,765.0 729.5,750.5 733.5,752.5 737.5,755.8 741.5,756.8 745.5,745.0 749.5,748.8 753.5,753.0 757.5,758.0 761.5,757.0 765.5,755.0 769.5,750.0 773.5,745.5 777.5,738.0 781.5,741.8 785.5,742.0 789.5,745.0 793.5,726.2 797.5,720.0 800.0,718.8 805.0,711.2 809.2,708.8 813.2,710.5 817.5,715.0 821.5,708.0 825.5,713.8 829.5,720.8 833.5,718.8 837.5,715.0 841.5,718.8 845.5,716.2 849.5,715.8 853.5,715.0 857.5,711.2 861.5,710.0 865.5,710.0 869.5,707.0 873.5,715.0 877.5,710.8 881.5,708.8 885.5,706.8 889.5,705.8 893.5,713.8 897.5,710.0 901.5,710.8 905.5,710.0 909.5,708.8 913.5,706.8 917.5,705.5 921.5,718.8 925.5,713.0 929.5,729.5 933.5,727.5 937.5,732.5 941.5,742.5 945.5,740.8 949.5,743.0 953.5,751.2 957.5,756.8 961.5,753.0 965.5,762.0 969.5,764.5 973.5,766.8 977.5,767.0 981.5,768.2 985.5,753.8 989.5,750.5 993.5,745.0 997.5,733.8 1001.5,743.0 1005.5,735.0 1009.5,733.5 1013.5,738.0 1017.5,746.8 1021.5,735.8 1025.5,738.0 1029.5,745.0 1033.5,742.5 1037.5,745.5 1041.5,764.5 1045.5,768.8 1049.5,760.8 1053.5,763.8 1057.5,762.0 1061.5,762.5 1065.5,759.2 1069.5,761.2 1073.5,762.5 1077.5,763.8 1081.5,763.8 1085.5,758.8 1089.5,764.2 1093.5,756.8 1097.5,758.8 1101.5,760.0 1105.5,757.5 1109.5,756.8 1113.5,758.2 1117.5,760.5 1121.5,764.5 1125.5,765.0 1129.5,760.5 1133.5,756.8 1137.5,750.0 1141.5,755.0 1145.5,752.5 1149.5,754.5 1153.5,755.0 1157.5,752.5 1161.5,730.0 1165.5,732.5 1169.5,732.5 1173.5,732.5 1177.5,732.5 1181.5,739.5 1185.5,750.0 1189.5,755.8 1193.5,750.8 1197.5,747.5 1200.0,742.5 1205.0,738.0 1209.2,732.0 1213.2,728.8 1217.5,731.2 1221.5,734.2 1225.5,733.8 1229.5,747.5 1233.5,748.8 1237.5,745.8 1241.5,747.5 1245.5,745.0 1249.5,743.8 1253.5,740.8 1257.5,730.0 1261.5,735.8 1265.5,728.8 1269.5,732.0 1273.5,735.8 1277.5,740.0 1281.5,751.2 1285.5,753.0 1289.5,745.8 1293.5,745.8 1297.5,747.0 1301.5,746.8 1305.5,751.8 1309.5,749.5 1313.5,750.8 1317.5,742.0 1321.5,743.8 1325.5,732.5 1329.5,753.8 1333.5,750.0 1337.5,750.0 1341.5,753.0 1345.5,756.8 1349.5,760.5 1353.5,751.2 1357.5,759.5 1361.5,765.8 1365.5,767.0 1369.5,764.5 1373.5,759.2 1377.5,745.0 1381.5,747.0 1385.5,746.8 1389.5,752.0 1393.5,759.2 1397.5,753.0 1401.5,750.8 1405.5,753.8 1409.5,746.8 1413.0,744.5" fill="none" stroke="#1e90ff" stroke-width="1" shape-rendering="crispEdges"/>
</g>
<g id="frame">
<rect x="0" y="32" width="1582" height="1" fill="#000" />
<rect x="0" y="497" width="1582" height="1" fill="#000" />
<rect x="0" y="499" width="1582" height="1" fill="#000" />
<rect x="0" y="672" width="1582" height="1" fill="#000" />
<rect x="0" y="674" width="1582" height="1" fill="#000" />
<rect x="0" y="808" width="1582" height="1" fill="#000" />
<rect x="1581" y="32" width="1" height="466" fill="#000" />
<rect x="1581" y="499" width="1" height="174" fill="#000" />
<rect x="1581" y="674" width="1" height="135" fill="#000" />
</g>
<g id="axis">
<rect x="1582" y="65" width="2" height="1" fill="#000" />
<text x="1587" y="69" font-size="9" fill="#000" text-anchor="start" font-weight="normal" >149.540</text>
<rect x="1582" y="98" width="2" height="1" fill="#000" />
<text x="1587" y="102" font-size="9" fill="#000" text-anchor="start" font-weight="normal" >149.015</text>
<rect x="1582" y="131" width="2" height="1" fill="#000" />
<text x="1587" y="135" font-size="9" fill="#000" text-anchor="start" font-weight="normal" >148.475</text>
<rect x="1582" y="164" width="2" height="1" fill="#000" />
<text x="1587" y="168" font-size="9" fill="#000" text-anchor="start" font-weight="normal" >147.950</text>
<rect x="1582" y="197" width="2" height="1" fill="#000" />
<text x="1587" y="201" font-size="9" fill="#000" text-anchor="start" font-weight="normal" >147.410</text>
<rect x="1582" y="230" width="2" height="1" fill="#000" />
<text x="1587" y="234" font-size="9" fill="#000" text-anchor="start" font-weight="normal" >146.885</text>
<rect x="1582" y="263" width="2" height="1" fill="#000" />
<text x="1587" y="267" font-size="9" fill="#000" text-anchor="start" font-weight="normal" >146.345</text>
<rect x="1582" y="296" width="2" height="1" fill="#000" />
<text x="1587" y="300" font-size="9" fill="#000" text-anchor="start" font-weight="normal" >145.820</text>
<rect x="1582" y="329" width="2" height="1" fill="#000" />
<text x="1587" y="333" font-size="9" fill="#000" text-anchor="start" font-weight="normal" >145.280</text>
<rect x="1582" y="362" width="2" height="1" fill="#000" />
<text x="1587" y="366" font-size="9" fill="#000" text-anchor="start" font-weight="normal" >144.755</text>
<rect x="1582" y="395" width="2" height="1" fill="#000" />
<text x="1587" y="399" font-size="9" fill="#000" text-anchor="start" font-weight="normal" >144.215</text>
<rect x="1582" y="494" width="2" height="1" fill="#000" />
<text x="1587" y="498" font-size="9" fill="#000" text-anchor="start" font-weight="normal" >142.625</text>
<rect x="1583" y="348" width="40" height="11" fill="#ff0000" />
<text x="1587" y="357" font-size="9" fill="#fff" text-anchor="start" font-weight="normal" >144.882</text>
<rect x="1583" y="384" width="40" height="11" fill="#ff0000" />
<text x="1587" y="393" font-size="9" fill="#fff" text-anchor="start" font-weight="normal" >144.296</text>
<rect x="1583" y="402" width="40" height="11" fill="#000" />
<text x="1587" y="411" font-size="9" fill="#fff" text-anchor="start" font-weight="normal" >144.019</text>
<rect x="1583" y="424" width="40" height="11" fill="#00ff00" />
<text x="1587" y="433" font-size="9" fill="#fff" text-anchor="start" font-weight="normal" >143.640</text>
<rect x="1583" y="454" width="40" height="11" fill="#0000ff" />
<text x="1587" y="463" font-size="9" fill="#fff" text-anchor="start" font-weight="normal" >143.170</text>
<rect x="1583" y="476" width="40" height="11" fill="#0000ff" />
<text x="1587" y="485" font-size="9" fill="#fff" text-anchor="start" font-weight="normal" >142.819</text>
<rect x="1582" y="501" width="2" height="1" fill="#000" />
<rect x="1582" y="588" width="2" height="1" fill="#000" />
<rect x="1582" y="671" width="2" height="1" fill="#000" />
<text x="1585" y="510" font-size="9" fill="#000" text-anchor="start" font-weight="normal" >0.9264</text>
<text x="1585" y="592" font-size="9" fill="#000" text-anchor="start" font-weight="normal" >0.00</text>
<text x="1585" y="669" font-size="9" fill="#000" text-anchor="start" font-weight="normal" >-0.8899</text>
<rect x="1582" y="676" width="2" height="1" fill="#000" />
<rect x="1582" y="807" width="2" height="1" fill="#000" />
<text x="1585" y="685" font-size="9" fill="#000" text-anchor="start" font-weight="normal" >100</text>
<text x="1585" y="706" font-size="9" fill="#000" text-anchor="start" font-weight="normal" >80</text>
<text x="1585" y="745" font-size="9" fill="#000" text-anchor="start" font-weight="normal" >50</text>
<text x="1585" y="792" font-size="9" fill="#000" text-anchor="start" font-weight="normal" >15</text>
<text x="1585" y="805" font-size="9" fill="#000" text-anchor="start" font-weight="normal" >0</text>
</g>
<g id="time">
<rect x="-7" y="809" width="1" height="3" fill="#000" />
<text x="-8" y="820.8" font-size="9.2" fill="#000" text-anchor="start" font-weight="normal" textLength="52.4" lengthAdjust="spacing">14 Sep 2018</text>
<rect x="57" y="809" width="1" height="3" fill="#000" />
<text x="56" y="820.8" font-size="9.2" fill="#000" text-anchor="start" font-weight="normal" textLength="55.0" lengthAdjust="spacing">19 Sep 08:00</text>
<rect x="121" y="809" width="1" height="3" fill="#000" />
<text x="120" y="820.8" font-size="9.2" fill="#000" text-anchor="start" font-weight="normal" textLength="55.0" lengthAdjust="spacing">24 Sep 00:00</text>
<rect x="185" y="809" width="1" height="3" fill="#000" />
<text x="184" y="820.8" font-size="9.2" fill="#000" text-anchor="start" font-weight="normal" textLength="55.0" lengthAdjust="spacing">26 Sep 16:00</text>
<rect x="249" y="809" width="1" height="3" fill="#000" />
<text x="248" y="820.8" font-size="9.2" fill="#000" text-anchor="start" font-weight="normal" textLength="49.2" lengthAdjust="spacing">1 Oct 08:00</text>
<rect x="313" y="809" width="1" height="3" fill="#000" />
<text x="312" y="820.8" font-size="9.2" fill="#000" text-anchor="start" font-weight="normal" textLength="49.2" lengthAdjust="spacing">4 Oct 00:00</text>
<rect x="377" y="809" width="1" height="3" fill="#000" />
<text x="376" y="820.8" font-size="9.2" fill="#000" text-anchor="start" font-weight="normal" textLength="49.2" lengthAdjust="spacing">8 Oct 16:00</text>
<rect x="441" y="809" width="1" height="3" fill="#000" />
<text x="440" y="820.8" font-size="9.2" fill="#000" text-anchor="start" font-weight="normal" textLength="53.8" lengthAdjust="spacing">11 Oct 08:00</text>
<rect x="505" y="809" width="1" height="3" fill="#000" />
<text x="504" y="820.8" font-size="9.2" fill="#000" text-anchor="start" font-weight="normal" textLength="54.5" lengthAdjust="spacing">16 Oct 00:00</text>
<rect x="569" y="809" width="1" height="3" fill="#000" />
<text x="568" y="820.8" font-size="9.2" fill="#000" text-anchor="start" font-weight="normal" textLength="54.5" lengthAdjust="spacing">18 Oct 16:00</text>
<rect x="633" y="809" width="1" height="3" fill="#000" />
<text x="632" y="820.8" font-size="9.2" fill="#000" text-anchor="start" font-weight="normal" textLength="54.5" lengthAdjust="spacing">23 Oct 08:00</text>
<rect x="697" y="809" width="1" height="3" fill="#000" />
<text x="696" y="820.8" font-size="9.2" fill="#000" text-anchor="start" font-weight="normal" textLength="54.5" lengthAdjust="spacing">26 Oct 00:00</text>
<rect x="761" y="809" width="1" height="3" fill="#000" />
<text x="760" y="820.8" font-size="9.2" fill="#000" text-anchor="start" font-weight="normal" textLength="54.5" lengthAdjust="spacing">30 Oct 16:00</text>
<rect x="825" y="809" width="1" height="3" fill="#000" />
<text x="824" y="820.8" font-size="9.2" fill="#000" text-anchor="start" font-weight="normal" textLength="52.4" lengthAdjust="spacing">2 Nov 08:00</text>
<rect x="889" y="809" width="1" height="3" fill="#000" />
<text x="888" y="820.8" font-size="9.2" fill="#000" text-anchor="start" font-weight="normal" textLength="52.4" lengthAdjust="spacing">7 Nov 00:00</text>
<rect x="953" y="809" width="1" height="3" fill="#000" />
<text x="952" y="820.8" font-size="9.2" fill="#000" text-anchor="start" font-weight="normal" textLength="52.4" lengthAdjust="spacing">9 Nov 16:00</text>
<rect x="1017" y="809" width="1" height="3" fill="#000" />
<text x="1016" y="820.8" font-size="9.2" fill="#000" text-anchor="start" font-weight="normal" textLength="57.9" lengthAdjust="spacing">14 Nov 08:00</text>
<rect x="1081" y="809" width="1" height="3" fill="#000" />
<text x="1080" y="820.8" font-size="9.2" fill="#000" text-anchor="start" font-weight="normal" textLength="57.9" lengthAdjust="spacing">19 Nov 00:00</text>
<rect x="1145" y="809" width="1" height="3" fill="#000" />
<text x="1144" y="820.8" font-size="9.2" fill="#000" text-anchor="start" font-weight="normal" textLength="57.9" lengthAdjust="spacing">21 Nov 16:00</text>
<rect x="1209" y="809" width="1" height="3" fill="#000" />
<text x="1208" y="820.8" font-size="9.2" fill="#000" text-anchor="start" font-weight="normal" textLength="57.9" lengthAdjust="spacing">26 Nov 08:00</text>
<rect x="1273" y="809" width="1" height="3" fill="#000" />
<text x="1272" y="820.8" font-size="9.2" fill="#000" text-anchor="start" font-weight="normal" textLength="57.9" lengthAdjust="spacing">29 Nov 00:00</text>
<rect x="1337" y="809" width="1" height="3" fill="#000" />
<text x="1336" y="820.8" font-size="9.2" fill="#000" text-anchor="start" font-weight="normal" textLength="51.8" lengthAdjust="spacing">3 Dec 16:00</text>
<rect x="1401" y="809" width="1" height="3" fill="#000" />
<text x="1400" y="820.8" font-size="9.2" fill="#000" text-anchor="start" font-weight="normal" textLength="51.8" lengthAdjust="spacing">6 Dec 08:00</text>
</g>
<g id="labels">
<path d="M0 39.5 L3.3 43.2 L0 43.2z" fill="#000" shape-rendering="auto"/>
<text x="8" y="44" font-size="9" fill="#000" xml:space="preserve" textLength="200" lengthAdjust="spacingAndGlyphs">GBPJPY-,H4  143.883 144.155 143.851 144.019</text>
<text x="-4.2" y="512" font-size="9" fill="#000" text-anchor="start" font-weight="normal" textLength="135" lengthAdjust="spacingAndGlyphs">MACD(12,26,9) -0.2366 -0.2907</text>
<text x="-4.5" y="687" font-size="9" fill="#000" text-anchor="start" font-weight="normal" textLength="69.5" lengthAdjust="spacingAndGlyphs">RSI(14) 48.4376</text>
</g>
<defs>
<linearGradient id="gTop" x1="0" y1="0" x2="0" y2="1"><stop offset="0" stop-color="#f85252"/><stop offset="1" stop-color="#dc3030"/></linearGradient>
<linearGradient id="gBot" x1="0" y1="0" x2="0" y2="1"><stop offset="0" stop-color="#dc2e2e"/><stop offset="0.6" stop-color="#c41414"/><stop offset="1" stop-color="#ae0202"/></linearGradient>
<linearGradient id="gBtn" x1="0" y1="0" x2="0" y2="1"><stop offset="0" stop-color="#f0f0f0"/><stop offset="0.45" stop-color="#e2e2e2"/><stop offset="0.5" stop-color="#d2d2d2"/><stop offset="1" stop-color="#cccccc"/></linearGradient>
</defs>
<g id="panel">
<rect x="0" y="52" width="217" height="66" fill="#ffffff"/>
<rect x="0" y="52" width="48" height="24" fill="url(#gTop)"/>
<rect x="163" y="52" width="52" height="24" fill="url(#gTop)"/>
<rect x="0" y="52" width="48" height="1" fill="#d02020"/>
<rect x="163" y="52" width="52" height="1" fill="#d02020"/>
<rect x="47" y="52" width="1" height="24" fill="#c81818"/>
<rect x="163" y="52" width="1" height="24" fill="#c81818"/>
<rect x="214" y="52" width="1" height="64" fill="#c01010"/>
<rect x="0" y="76" width="105" height="40" fill="url(#gBot)"/>
<rect x="107" y="76" width="108" height="40" fill="url(#gBot)"/>
<rect x="0" y="75" width="44" height="1" fill="#b00808"/>
<rect x="167" y="75" width="44" height="1" fill="#b00808"/>
<rect x="104" y="76" width="1" height="40" fill="#b40a0a"/>
<rect x="107" y="76" width="1" height="40" fill="#b40a0a"/>
<rect x="50" y="52" width="111" height="22" fill="#ffffff" stroke="none"/>
<path d="M50 52h111v22h-111z M51 53v20h109v-20z" fill="#a4a8b4" fill-rule="evenodd"/>
<rect x="51" y="53" width="20" height="20" fill="url(#gBtn)"/>
<rect x="140" y="53" width="20" height="20" fill="url(#gBtn)"/>
<rect x="71" y="53" width="1" height="20" fill="#a4a8b4"/>
<rect x="139" y="53" width="1" height="20" fill="#a4a8b4"/>
<path d="M58 61h6l-3 3.5z" fill="#4060c8" shape-rendering="auto"/>
<path d="M147 64h6l-3 -3.5z" fill="#4060c8" shape-rendering="auto"/>
<text x="8.3" y="68" font-size="12" fill="#fff" textLength="25.3" lengthAdjust="spacingAndGlyphs">SELL</text>
<text x="176.7" y="68" font-size="12" fill="#fff" textLength="23" lengthAdjust="spacingAndGlyphs">BUY</text>
<text x="112.8" y="67" font-size="12" fill="#101010">1.00</text>
<text x="19.4" y="107" font-size="12" font-weight="bold" fill="#fff">144</text>
<text x="43.5" y="107" font-size="34" fill="#fff" textLength="34" lengthAdjust="spacingAndGlyphs">01</text>
<text x="83" y="91" font-size="12" font-weight="bold" fill="#fff">9</text>
<text x="129.6" y="107" font-size="12" font-weight="bold" fill="#fff">144</text>
<text x="154" y="107" font-size="34" fill="#fff" textLength="34" lengthAdjust="spacingAndGlyphs">05</text>
<text x="193.7" y="91" font-size="12" font-weight="bold" fill="#fff">7</text>
</g>

<g id="toolbar">
<rect x="0" y="0" width="1616" height="32" fill="#f0f0f0"/>
<rect x="0" y="1" width="1616" height="1" fill="#a0a0a0"/>
<rect x="0" y="2" width="1616" height="1" fill="#ffffff"/>
<rect x="0" y="27" width="1616" height="1" fill="#f6f6f6"/>
<rect x="0" y="28" width="1616" height="1" fill="#b4b4b4"/>
<rect x="0" y="29" width="1616" height="1" fill="#686868"/>
<rect x="0" y="30" width="1616" height="2" fill="#ffffff"/>
<text x="-4.6" y="19.6" font-size="12" fill="#000" style="font-family:'Liberation Sans','Noto Sans CJK SC',sans-serif;" shape-rendering="auto">单</text>
<text x="69.6" y="19.6" font-size="11.5" fill="#000" textLength="45.4" lengthAdjust="spacing" style="font-family:'Liberation Sans','Noto Sans CJK SC',sans-serif;" shape-rendering="auto">自动交易</text>
<g shape-rendering="auto">
<path d="M26.5 9 L35.5 16.5 L28.5 23.5 L20.3 17.8 Z" fill="#e8b020" stroke="#a86a08" stroke-width="1"/>
<path d="M27 11 L33.5 16.5 L28.3 21.5 L22.5 17.5 Z" fill="#f6d24a"/>
<path d="M28.5 23.5 L35.5 16.5 L35.8 18.5 L29 24.3Z" fill="#f0e0a0" stroke="#a86a08" stroke-width=".6"/>
<path d="M49 15 L61 15 L59 21 L55 23.5 Z" fill="#f4d040" stroke="#c89a10" stroke-width=".8"/>
<ellipse cx="55" cy="12.8" rx="7.6" ry="2.6" fill="#4aa4d8" stroke="#2a7ab0" stroke-width=".7"/>
<path d="M51 12.5 C51 7.5 59 7.5 59 12.5 Z" fill="#66b8e6" stroke="#2a7ab0" stroke-width=".7"/>
<circle cx="59.7" cy="19.7" r="3.7" fill="#e02408"/>
<rect x="58.4" y="18.4" width="2.6" height="2.6" fill="#fff"/>
</g>
<rect x="123" y="4" width="1" height="23" fill="#a0a0a0"/>
<rect x="124" y="4" width="1" height="23" fill="#ffffff"/>
<rect x="127" y="6" width="3" height="1" fill="#b4b4b4"/>
<rect x="127" y="8" width="3" height="1" fill="#b4b4b4"/>
<rect x="127" y="10" width="3" height="1" fill="#b4b4b4"/>
<rect x="127" y="12" width="3" height="1" fill="#b4b4b4"/>
<rect x="127" y="14" width="3" height="1" fill="#b4b4b4"/>
<rect x="127" y="16" width="3" height="1" fill="#b4b4b4"/>
<rect x="127" y="18" width="3" height="1" fill="#b4b4b4"/>
<rect x="127" y="20" width="3" height="1" fill="#b4b4b4"/>
<rect x="127" y="22" width="3" height="1" fill="#b4b4b4"/>
<rect x="127" y="24" width="3" height="1" fill="#b4b4b4"/>
<rect x="141" y="10" width="1" height="14" fill="#505050"/>
<rect x="139" y="21" width="14" height="1" fill="#505050"/>
<path d="M139.5 12.5L141.5 9.5L143.5 12.5z M151 19.5L154 21.5L151 23.5z" fill="#505050" shape-rendering="auto"/>
<rect x="147" y="12" width="1" height="8" fill="#208a20"/>
<rect x="148" y="12" width="2" height="1" fill="#208a20"/>
<rect x="145" y="19" width="2" height="1" fill="#208a20"/>
<rect x="161" y="4" width="25" height="22" fill="#f8f8f8"/>
<rect x="161" y="4" width="25" height="1" fill="#a0a0a0"/>
<rect x="161" y="4" width="1" height="22" fill="#a0a0a0"/>
<rect x="161" y="25" width="25" height="1" fill="#ffffff"/>
<rect x="185" y="4" width="1" height="22" fill="#ffffff"/>
<rect x="169" y="10" width="1" height="14" fill="#505050"/>
<rect x="167" y="21" width="14" height="1" fill="#505050"/>
<path d="M167.5 12.5L169.5 9.5L171.5 12.5z M179 19.5L182 21.5L179 23.5z" fill="#505050" shape-rendering="auto"/>
<rect x="175" y="8" width="1" height="13" fill="#108810"/>
<rect x="173" y="11" width="5" height="8" fill="#10a010"/>
<rect x="174" y="12" width="3" height="6" fill="#20d020"/>
<rect x="197" y="10" width="1" height="14" fill="#505050"/>
<rect x="195" y="21" width="14" height="1" fill="#505050"/>
<path d="M195.5 12.5L197.5 9.5L199.5 12.5z M207 19.5L210 21.5L207 23.5z" fill="#505050" shape-rendering="auto"/>
<path d="M196.5 19 C199 14 202 12.5 203.5 13.5 C205 14.5 207 16.5 208.5 17" fill="none" stroke="#208a20" stroke-width="1.1" shape-rendering="auto"/>
<rect x="218" y="4" width="1" height="23" fill="#a0a0a0"/>
<rect x="219" y="4" width="1" height="23" fill="#ffffff"/>
<g shape-rendering="auto">
<path d="M236.0 17.5 L242.0 22.8" stroke="#b08a18" stroke-width="3" stroke-linecap="round"/>
<path d="M236.5 17.6 L241.8 22.3" stroke="#f0d050" stroke-width="1.4" stroke-linecap="round"/>
<circle cx="232.5" cy="13.9" r="5" fill="#c4e2fa" stroke="#3a84d0" stroke-width="1.2"/>
<path d="M229.5 13.9h6" stroke="#2a70c0" stroke-width="1.5"/>
<path d="M232.5 10.9v6" stroke="#2a70c0" stroke-width="1.5"/>
</g>
<g shape-rendering="auto">
<path d="M264.2 17.5 L270.2 22.8" stroke="#b08a18" stroke-width="3" stroke-linecap="round"/>
<path d="M264.7 17.6 L270.0 22.3" stroke="#f0d050" stroke-width="1.4" stroke-linecap="round"/>
<circle cx="260.7" cy="13.9" r="5" fill="#c4e2fa" stroke="#3a84d0" stroke-width="1.2"/>
<path d="M257.7 13.9h6" stroke="#2a70c0" stroke-width="1.5"/>
</g>
<rect x="283" y="8" width="8" height="8" fill="#3a9a2a"/>
<rect x="291" y="8" width="8" height="8" fill="#2a56c0"/>
<rect x="283" y="16" width="8" height="8" fill="#2a56c0"/>
<rect x="291" y="16" width="8" height="8" fill="#3a9a2a"/>
<rect x="284" y="11" width="6" height="3" fill="#e8f0f8"/>
<rect x="292" y="11" width="6" height="3" fill="#e8f0f8"/>
<rect x="284" y="19" width="6" height="3" fill="#e8f0f8"/>
<rect x="292" y="19" width="6" height="3" fill="#e8f0f8"/>
<rect x="283" y="8" width="16" height="1" fill="#1a5a9a"/>
<rect x="308" y="4" width="1" height="23" fill="#a0a0a0"/>
<rect x="309" y="4" width="1" height="23" fill="#ffffff"/>
<rect x="313" y="4" width="25" height="22" fill="#f8f8f8"/>
<rect x="313" y="4" width="25" height="1" fill="#a0a0a0"/>
<rect x="313" y="4" width="1" height="22" fill="#a0a0a0"/>
<rect x="313" y="25" width="25" height="1" fill="#ffffff"/>
<rect x="337" y="4" width="1" height="22" fill="#ffffff"/>
<rect x="321" y="10" width="1" height="14" fill="#505050"/>
<rect x="319" y="21" width="14" height="1" fill="#505050"/>
<path d="M319.5 12.5L321.5 9.5L323.5 12.5z M331 19.5L334 21.5L331 23.5z" fill="#505050" shape-rendering="auto"/>
<path d="M326.5 13 L330.5 15.8 L326.5 18.6z" fill="#30c030" stroke="#108010" stroke-width=".8" shape-rendering="auto"/>
<rect x="341" y="4" width="25" height="22" fill="#f8f8f8"/>
<rect x="341" y="4" width="25" height="1" fill="#a0a0a0"/>
<rect x="341" y="4" width="1" height="22" fill="#a0a0a0"/>
<rect x="341" y="25" width="25" height="1" fill="#ffffff"/>
<rect x="365" y="4" width="1" height="22" fill="#ffffff"/>
<rect x="349" y="10" width="1" height="14" fill="#505050"/>
<rect x="347" y="21" width="14" height="1" fill="#505050"/>
<path d="M347.5 12.5L349.5 9.5L351.5 12.5z M359 19.5L362 21.5L359 23.5z" fill="#505050" shape-rendering="auto"/>
<rect x="355" y="10" width="1" height="10" fill="#2060c0"/>
<path d="M356.5 15.5 L360.5 12.8 L360.5 18.2z" fill="#e04010" shape-rendering="auto"/>
<rect x="359" y="15" width="2" height="1" fill="#e04010"/>
<rect x="370" y="4" width="1" height="23" fill="#a0a0a0"/>
<rect x="371" y="4" width="1" height="23" fill="#ffffff"/>
<g shape-rendering="auto">
<path d="M380.5 8.5h8l3.5 3.5v9.5h-11.5z" fill="#f4f4f4" stroke="#909090" stroke-width="1"/>
<path d="M383 12v6M383 12h2M383 18h2" stroke="#a0a0a0" stroke-width="1" fill="none"/>
<path d="M388.5 14.2h4v3.6h3.6v4h-3.6v3.6h-4v-3.6h-3.6v-4h3.6z" fill="#20c020" stroke="#108010" stroke-width=".9"/>
</g>
<path d="M402 15h5l-2.5 3z" fill="#000" shape-rendering="auto"/>
<g shape-rendering="auto">
<circle cx="426" cy="15.7" r="6.6" fill="#f4f8fc" stroke="#2466c8" stroke-width="2.4"/>
<path d="M426 11.5v4.4h3.2" stroke="#505050" stroke-width="1.1" fill="none"/>
</g>
<path d="M441 15h5l-2.5 3z" fill="#000" shape-rendering="auto"/>
<rect x="457" y="9" width="16" height="14" fill="#3a78d0"/>
<rect x="458" y="12" width="14" height="10" fill="#ffffff"/>
<rect x="458" y="10" width="14" height="1" fill="#a8c8f0"/>
<path d="M459 16 L462 14.5 L465 15 L468 13.5 L471 13.5" stroke="#c02010" stroke-width="1.1" fill="none" shape-rendering="auto"/>
<path d="M459 20.5 L462 19 L465 20 L468 18.2 L471 20" stroke="#20a020" stroke-width="1.1" fill="none" shape-rendering="auto"/>
<path d="M480 15h5l-2.5 3z" fill="#000" shape-rendering="auto"/>
<rect x="491" y="4" width="1" height="23" fill="#a0a0a0"/>
<rect x="492" y="4" width="1" height="23" fill="#ffffff"/>
<rect x="495" y="6" width="3" height="1" fill="#b4b4b4"/>
<rect x="495" y="8" width="3" height="1" fill="#b4b4b4"/>
<rect x="495" y="10" width="3" height="1" fill="#b4b4b4"/>
<rect x="495" y="12" width="3" height="1" fill="#b4b4b4"/>
<rect x="495" y="14" width="3" height="1" fill="#b4b4b4"/>
<rect x="495" y="16" width="3" height="1" fill="#b4b4b4"/>
<rect x="495" y="18" width="3" height="1" fill="#b4b4b4"/>
<rect x="495" y="20" width="3" height="1" fill="#b4b4b4"/>
<rect x="495" y="22" width="3" height="1" fill="#b4b4b4"/>
<rect x="495" y="24" width="3" height="1" fill="#b4b4b4"/>
<rect x="501" y="4" width="25" height="22" fill="#f8f8f8"/>
<rect x="501" y="4" width="25" height="1" fill="#a0a0a0"/>
<rect x="501" y="4" width="1" height="22" fill="#a0a0a0"/>
<rect x="501" y="25" width="25" height="1" fill="#ffffff"/>
<rect x="525" y="4" width="1" height="22" fill="#ffffff"/>
<path d="M509 9 L509 20.5 L511.8 18 L514 23 L515.8 22.2 L513.6 17.3 L517.2 17.2 Z" fill="#404040" shape-rendering="auto"/>
<rect x="541" y="9" width="1" height="6" fill="#505050"/>
<rect x="541" y="18" width="1" height="6" fill="#505050"/>
<rect x="534" y="16" width="6" height="1" fill="#505050"/>
<rect x="543" y="16" width="6" height="1" fill="#505050"/>
<rect x="558" y="4" width="1" height="23" fill="#a0a0a0"/>
<rect x="559" y="4" width="1" height="23" fill="#ffffff"/>
<rect x="575" y="10" width="1" height="13" fill="#505050"/>
<rect x="598" y="16" width="12" height="1" fill="#505050"/>
<path d="M626 23 L638 11" stroke="#505050" stroke-width="1.1" shape-rendering="auto"/>
<g shape-rendering="auto" stroke="#505050" stroke-width="1" fill="none">
<path d="M652 18 L664 9.5 M653 22.5 L665.5 13.5 M655 15 L656.5 21 M658.5 12.5 L660 18.5 M662 10 L663.5 16"/>
</g>
<text x="662.5" y="24.8" font-size="6.5" font-weight="bold" fill="#404040">E</text>
<rect x="681" y="9" width="1" height="1" fill="#505050"/>
<rect x="683" y="9" width="1" height="1" fill="#505050"/>
<rect x="685" y="9" width="1" height="1" fill="#505050"/>
<rect x="687" y="9" width="1" height="1" fill="#505050"/>
<rect x="689" y="9" width="1" height="1" fill="#505050"/>
<rect x="691" y="9" width="1" height="1" fill="#505050"/>
<rect x="693" y="9" width="1" height="1" fill="#505050"/>
<rect x="681" y="13" width="1" height="1" fill="#505050"/>
<rect x="683" y="13" width="1" height="1" fill="#505050"/>
<rect x="685" y="13" width="1" height="1" fill="#505050"/>
<rect x="687" y="13" width="1" height="1" fill="#505050"/>
<rect x="689" y="13" width="1" height="1" fill="#505050"/>
<rect x="691" y="13" width="1" height="1" fill="#505050"/>
<rect x="693" y="13" width="1" height="1" fill="#505050"/>
<rect x="681" y="16" width="1" height="1" fill="#505050"/>
<rect x="683" y="16" width="1" height="1" fill="#505050"/>
<rect x="685" y="16" width="1" height="1" fill="#505050"/>
<rect x="687" y="16" width="1" height="1" fill="#505050"/>
<rect x="689" y="16" width="1" height="1" fill="#505050"/>
<rect x="691" y="16" width="1" height="1" fill="#505050"/>
<rect x="693" y="16" width="1" height="1" fill="#505050"/>
<rect x="681" y="20" width="1" height="1" fill="#505050"/>
<rect x="683" y="20" width="1" height="1" fill="#505050"/>
<rect x="685" y="20" width="1" height="1" fill="#505050"/>
<rect x="687" y="20" width="1" height="1" fill="#505050"/>
<rect x="689" y="20" width="1" height="1" fill="#505050"/>
<text x="690.3" y="24.8" font-size="6.5" font-weight="bold" fill="#404040">F</text>
<text x="711.2" y="20.8" font-size="12.5" font-weight="bold" fill="#585858">A</text>
<rect x="738" y="10" width="1" height="1" fill="#505050"/>
<rect x="738" y="22" width="1" height="1" fill="#505050"/>
<rect x="740" y="10" width="1" height="1" fill="#505050"/>
<rect x="740" y="22" width="1" height="1" fill="#505050"/>
<rect x="742" y="10" width="1" height="1" fill="#505050"/>
<rect x="742" y="22" width="1" height="1" fill="#505050"/>
<rect x="744" y="10" width="1" height="1" fill="#505050"/>
<rect x="744" y="22" width="1" height="1" fill="#505050"/>
<rect x="746" y="10" width="1" height="1" fill="#505050"/>
<rect x="746" y="22" width="1" height="1" fill="#505050"/>
<rect x="748" y="10" width="1" height="1" fill="#505050"/>
<rect x="748" y="22" width="1" height="1" fill="#505050"/>
<rect x="738" y="10" width="1" height="1" fill="#505050"/>
<rect x="749" y="10" width="1" height="1" fill="#505050"/>
<rect x="738" y="12" width="1" height="1" fill="#505050"/>
<rect x="749" y="12" width="1" height="1" fill="#505050"/>
<rect x="738" y="14" width="1" height="1" fill="#505050"/>
<rect x="749" y="14" width="1" height="1" fill="#505050"/>
<rect x="738" y="16" width="1" height="1" fill="#505050"/>
<rect x="749" y="16" width="1" height="1" fill="#505050"/>
<rect x="738" y="18" width="1" height="1" fill="#505050"/>
<rect x="749" y="18" width="1" height="1" fill="#505050"/>
<rect x="738" y="20" width="1" height="1" fill="#505050"/>
<rect x="749" y="20" width="1" height="1" fill="#505050"/>
<rect x="738" y="22" width="1" height="1" fill="#505050"/>
<rect x="749" y="22" width="1" height="1" fill="#505050"/>
<rect x="738" y="9" width="2" height="2" fill="#505050"/>
<rect x="740" y="12" width="8" height="2" fill="#505050"/>
<rect x="743" y="12" width="2" height="9" fill="#505050"/>
<g shape-rendering="auto" fill="#404040">
<path d="M768.5 10 L771.5 13 L768.5 14.5 L765.5 13z"/>
<path d="M776 18 L779 20 L776 23 L773 20z"/>
<path d="M767 16 L769 18.8 L774 13.5" stroke="#404040" stroke-width="1.2" fill="none"/>
</g>
<path d="M786 15h5l-2.5 3z" fill="#000" shape-rendering="auto"/>
<rect x="797" y="4" width="1" height="23" fill="#a0a0a0"/>
<rect x="798" y="4" width="1" height="23" fill="#ffffff"/>
<rect x="801" y="6" width="3" height="1" fill="#b4b4b4"/>
<rect x="801" y="8" width="3" height="1" fill="#b4b4b4"/>
<rect x="801" y="10" width="3" height="1" fill="#b4b4b4"/>
<rect x="801" y="12" width="3" height="1" fill="#b4b4b4"/>
<rect x="801" y="14" width="3" height="1" fill="#b4b4b4"/>
<rect x="801" y="16" width="3" height="1" fill="#b4b4b4"/>
<rect x="801" y="18" width="3" height="1" fill="#b4b4b4"/>
<rect x="801" y="20" width="3" height="1" fill="#b4b4b4"/>
<rect x="801" y="22" width="3" height="1" fill="#b4b4b4"/>
<rect x="801" y="24" width="3" height="1" fill="#b4b4b4"/>
<rect x="947" y="4" width="25" height="22" fill="#f8f8f8"/>
<rect x="947" y="4" width="25" height="1" fill="#a0a0a0"/>
<rect x="947" y="4" width="1" height="22" fill="#a0a0a0"/>
<rect x="947" y="25" width="25" height="1" fill="#ffffff"/>
<rect x="971" y="4" width="1" height="22" fill="#ffffff"/>
<text x="812.6" y="19.8" font-size="9.5" fill="#404040" textLength="12.4" lengthAdjust="spacingAndGlyphs">M1</text>
<text x="840.8" y="19.8" font-size="9.5" fill="#404040" textLength="12.4" lengthAdjust="spacingAndGlyphs">M5</text>
<text x="866.8" y="19.8" font-size="9.5" fill="#404040" textLength="17.2" lengthAdjust="spacingAndGlyphs">M15</text>
<text x="894.4" y="19.8" font-size="9.5" fill="#404040" textLength="17.6" lengthAdjust="spacingAndGlyphs">M30</text>
<text x="925.6" y="19.8" font-size="9.5" fill="#404040" textLength="11.7" lengthAdjust="spacingAndGlyphs">H1</text>
<text x="952.5" y="19.8" font-size="9.5" fill="#404040" textLength="12.1" lengthAdjust="spacingAndGlyphs">H4</text>
<text x="981.5" y="19.8" font-size="9.5" fill="#404040" textLength="11.7" lengthAdjust="spacingAndGlyphs">D1</text>
<text x="1009.2" y="19.8" font-size="9.5" fill="#404040" textLength="13.9" lengthAdjust="spacingAndGlyphs">W1</text>
<text x="1035.7" y="19.8" font-size="9.5" fill="#404040" textLength="14.7" lengthAdjust="spacingAndGlyphs">MN</text>
<rect x="1058" y="4" width="1" height="23" fill="#a0a0a0"/>
<rect x="1059" y="4" width="1" height="23" fill="#ffffff"/>
<g shape-rendering="auto">
<path d="M1577.6 16.4 L1573.4 20.6" stroke="#2a56c8" stroke-width="2.4" stroke-linecap="butt"/>
<circle cx="1580.5" cy="13.4" r="3.7" fill="#f4f6fc" stroke="#3060d0" stroke-width="1.2"/>
<ellipse cx="1613" cy="13" rx="6.2" ry="4.6" fill="#f6f6f8" stroke="#a8a8a8" stroke-width="1"/>
<ellipse cx="1604.3" cy="17.2" rx="5.2" ry="3.9" fill="#f8f8fa" stroke="#989898" stroke-width="1"/>
<path d="M1602.2 20.6 L1601.6 22.8 L1604.4 21" fill="#f8f8fa" stroke="#808080" stroke-width=".8"/>
</g>
</g>
</svg>
</body></html>
